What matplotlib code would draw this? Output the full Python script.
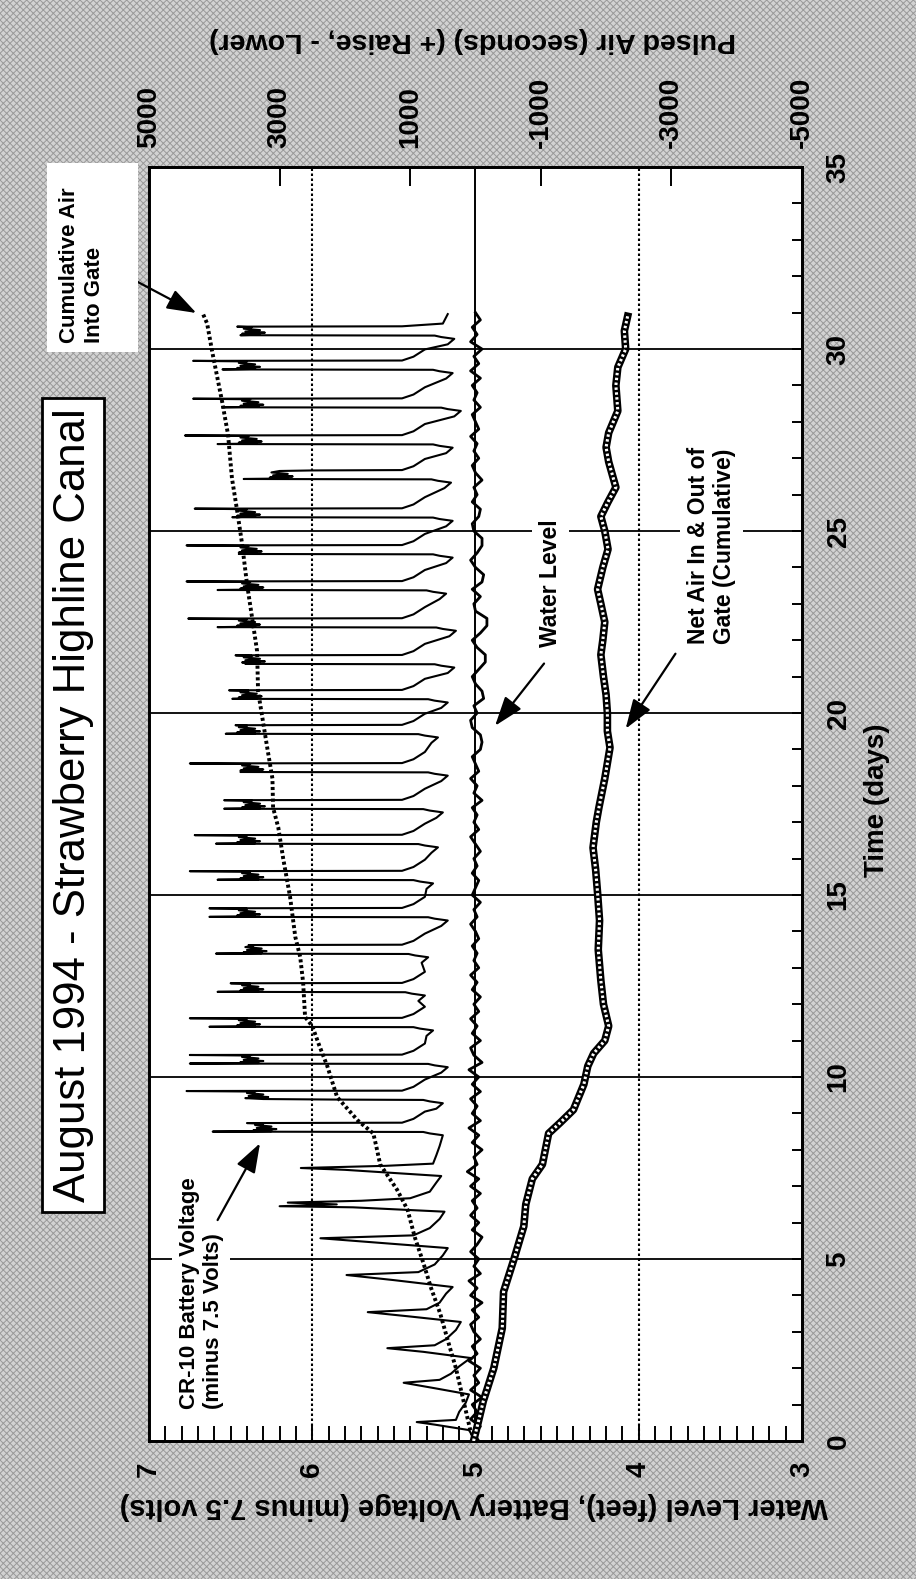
import matplotlib
matplotlib.use("Agg")
import matplotlib.pyplot as plt
from matplotlib.patches import Rectangle
from matplotlib.ticker import MultipleLocator
import numpy as np

plt.rcParams['font.family'] = ['Liberation Sans', 'DejaVu Sans']
plt.rcParams['axes.unicode_minus'] = False
plt.rcParams['hatch.linewidth'] = 0.7

# ---- values ----
time_ticks = [0, 5, 10, 15, 20, 25, 30, 35]
level_ticks = [3, 4, 5, 6, 7]
air_ticks = [5000, 3000, 1000, -1000, -3000, -5000]
air_labels = ["5000", "3000", "1000", "-1000", "-3000", "-5000"]

# water level (feet), one reading every 0.2 day
water_t = np.round(np.arange(0, 31.01, 0.2), 2)
water_lvl = [4.98, 5.01, 4.97, 5.03, 4.99, 5.02, 4.96, 5.03, 4.98, 5.01, 4.97, 5.04, 4.99, 5.02, 4.97, 5.01,
             5.03, 4.98, 5.02, 4.96, 5.03, 4.99, 5.04, 4.97, 5.01, 4.98, 5.03, 4.99, 4.96, 5.02, 4.98, 5.03,
             4.99, 5.02, 4.97, 5.03, 4.98, 5.05, 4.99, 5.01, 4.96, 5.02, 4.98, 5.04, 4.97, 5.02, 4.99, 5.03,
             4.97, 5.02, 4.98, 5.04, 4.96, 5.01, 5.03, 4.97, 5.02, 4.99, 5.03, 4.98, 5.01, 4.97, 5.02, 4.99,
             5.03, 4.98, 5.01, 4.99, 5.02, 4.98, 5.00, 5.03, 4.99, 5.01, 4.97, 5.02, 5.00, 4.98, 5.02, 4.99,
             5.01, 4.97, 5.00, 5.03, 4.98, 5.01, 4.99, 5.02, 4.96, 5.01, 4.99, 5.03, 4.98, 5.00, 5.02, 4.97,
             4.96, 4.97, 5.02, 5.03, 4.99, 5.01, 4.95, 4.96, 5.00, 5.02, 4.98, 4.94, 4.94, 4.99, 5.02, 4.97,
             4.93, 4.93, 5.00, 5.01, 4.97, 5.02, 4.96, 4.95, 5.00, 5.03, 4.99, 4.96, 4.96, 5.01, 5.02, 4.98,
             4.97, 5.02, 4.99, 5.01, 4.96, 5.00, 5.02, 4.98, 5.01, 4.99, 5.03, 4.98, 5.00, 5.02, 4.97, 5.01,
             4.99, 5.02, 4.97, 5.03, 4.98, 5.01, 4.96, 5.03, 4.99, 5.02, 4.97, 5.00]

# cumulative air into gate (seconds)
cum_t = [0.0, 0.3, 1.0, 2.0, 2.8, 3.5, 4.2, 4.9, 5.6, 6.35, 6.9, 7.6, 8.1, 8.45, 8.8, 9.45, 10.3, 10.9,
         11.4, 11.65, 12.6, 13.3, 13.85, 14.95, 16.0, 16.85, 17.4, 18.2, 19.05, 20.6, 21.7, 22.6, 23.55,
         24.65, 25.55, 26.45, 27.65, 28.55, 29.95, 30.7, 30.95]
cum_air = [0, 80, 170, 300, 430, 540, 680, 800, 930, 1040, 1200, 1460, 1520, 1565, 1800, 2120, 2270, 2400,
           2500, 2610, 2640, 2685, 2760, 2840, 2945, 3020, 3100, 3110, 3190, 3330, 3345, 3420, 3500,
           3575, 3650, 3730, 3790, 3880, 4035, 4110, 4170]

# net air in & out of gate (seconds, cumulative)
net_t = [0.0, 0.5, 1.1, 2.0, 3.1, 4.1, 5.0, 5.9, 6.5, 7.2, 7.6, 8.45, 8.75, 9.1, 9.8, 10.3, 10.65, 11.0,
         11.4, 12.0, 12.65, 13.5, 14.3, 15.05, 15.7, 16.3, 17.0, 17.4, 18.2, 19.05, 19.5, 20.0, 20.5, 21.0,
         21.6, 22.0, 22.5, 23.0, 23.4, 24.0, 24.5, 25.0, 25.4, 25.8, 26.2, 26.9, 27.3, 27.7, 28.3, 29.0,
         29.5, 30.0, 30.5, 30.9]
net_air = [30, -40, -120, -280, -410, -430, -590, -740, -770, -870, -1025, -1120, -1300, -1500, -1660,
           -1720, -1810, -1980, -2040, -1960, -1920, -1880, -1900, -1870, -1840, -1800, -1850, -1890,
           -1980, -2060, -2020, -2020, -2000, -1960, -1920, -1950, -1980, -1920, -1870, -1950, -2030,
           -1980, -1920, -2030, -2150, -2040, -2000, -2040, -2180, -2150, -2180, -2300, -2280, -2330]

# battery voltage (minus 7.5 V), first eight days point by point
batt_early_t = [0.00, 0.15, 0.30, 0.45, 0.52, 0.58, 0.80, 1.05, 1.28,
                1.45, 1.60, 1.68, 1.85, 2.05, 2.28,
                2.45, 2.55, 2.63, 2.80, 3.05, 3.27,
                3.42, 3.54, 3.62, 3.80, 4.05, 4.23,
                4.42, 4.56, 4.64, 4.85, 5.10, 5.30,
                5.45, 5.57, 5.65, 5.85, 6.10, 6.30,
                6.42, 6.45, 6.50, 6.55, 6.60, 6.67, 6.85, 7.10, 7.28,
                7.45, 7.50, 7.56, 7.62, 7.85, 8.10]
batt_early_v = [5.00, 5.02, 5.04, 5.25, 5.36, 5.12, 5.10, 5.06, 5.04,
                5.25, 5.44, 5.22, 5.15, 5.10, 5.03,
                5.32, 5.54, 5.25, 5.18, 5.12, 5.09,
                5.40, 5.66, 5.30, 5.22, 5.18, 5.14,
                5.50, 5.79, 5.35, 5.25, 5.20, 5.17,
                5.60, 5.95, 5.38, 5.28, 5.22, 5.19,
                5.75, 6.20, 5.85, 6.15, 5.70, 5.40, 5.28, 5.24, 5.21,
                5.80, 6.07, 5.55, 5.26, 5.24, 5.22]

# from day 8 on: time and level of each overnight low, morning spike, daytime level, evening spike
low_t = [8.40, 9.28, 10.27, 11.28, 12.24, 13.29, 14.30, 15.32, 16.31, 17.27, 18.28, 19.33, 20.29,
         21.25, 22.26, 23.28, 24.27, 25.28, 26.33, 27.29, 28.30, 29.34, 30.28]
low_v = [5.20, 5.20, 5.17, 5.26, 5.31, 5.29, 5.17, 5.26, 5.23, 5.20, 5.17, 5.23, 5.17,
         5.13, 5.12, 5.18, 5.14, 5.14, 5.15, 5.14, 5.09, 5.14, 5.13]
am_v = [6.61, 5.85, 6.75, 6.63, 6.58, 6.59, 6.63, 6.58, 6.59, 6.54, 6.44, 6.53, 6.49,
        6.41, 6.58, 6.58, 6.45, 6.49, 6.42, 6.58, 6.55, 6.55, 6.44]
day_v = [6.30, 6.35, 6.38, 6.40, 6.38, 6.36, 6.40, 6.38, 6.40, 6.37, 6.38, 6.40, 6.39,
         6.37, 6.40, 6.38, 6.39, 6.40, 6.20, 6.39, 6.38, 6.40, 6.37]
pm_v = [6.40, 6.77, 6.75, 6.75, 6.50, 6.39, 6.63, 6.75, 6.72, 6.54, 6.75, 6.47, 6.51,
        6.47, 6.76, 6.77, 6.77, 6.72, 6.00, 6.78, 6.73, 6.73, 6.46]
# typical jitter of the daytime level (days after the low, volts)
jit_dt = [0.115, 0.14, 0.17, 0.20, 0.24, 0.28, 0.32]
jit_dv = [-0.05, 0.06, -0.08, 0.04, -0.05, 0.05, 0.0]

batt_t = list(batt_early_t)
batt_v = list(batt_early_v)
for i, T in enumerate(low_t):
    batt_t += [T, T + 0.05, T + 0.09, T + 0.10]
    batt_v += [low_v[i], low_v[i] + 0.08, low_v[i] + 0.12, am_v[i]]
    batt_t += [T + d for d in jit_dt]
    batt_v += [day_v[i] + d for d in jit_dv]
    batt_t += [T + 0.335, T + 0.345]
    batt_v += [pm_v[i], 5.45]
    if i + 1 < len(low_t):
        batt_t += [T + 0.45, T + 0.65, low_t[i + 1] - 0.15]
        batt_v += [5.38, 5.31, low_v[i + 1] + 0.04]
    else:
        batt_t += [T + 0.42, 30.96]
        batt_v += [5.20, 5.17]

# ---- figure ----
fig = plt.figure(figsize=(9.16, 15.79), dpi=100)
fig.patch.set_facecolor('#c8c8c8')
fig.add_artist(Rectangle((0, 0), 1, 1, transform=fig.transFigure, facecolor='#d2d2d2',
                         edgecolor='#999999', hatch='xxxxx', lw=0, zorder=-10))

ax = fig.add_axes([0.1627, 0.0874, 0.7128, 0.8068])
ax2 = ax.twiny()
ax.set_facecolor('white')

ax.set_xlim(7, 3)
ax.set_ylim(0, 35)
ax2.set_xlim(5000, -5000)

# grid
for t in time_ticks[1:-1]:
    ax.axhline(t, color='black', lw=1.3, zorder=1)
ax.axvline(4, color='black', lw=1.5, ls=(0, (1.2, 1.2)), zorder=1)
ax.axvline(6, color='black', lw=1.5, ls=(0, (1.2, 1.2)), zorder=1)
ax.axvline(5, color='black', lw=1.4, zorder=1)

# series
ax.plot(batt_v, batt_t, color='black', lw=1.5, zorder=3)
ax.plot(water_lvl, water_t, color='black', lw=2.0, zorder=4)
ax2.plot(cum_air, cum_t, color='black', lw=2.8, ls=(0, (0.8, 0.7)), zorder=3)
ax2.plot(net_air, net_t, color='black', lw=5.5, zorder=3)
ax2.plot(net_air, net_t, color='white', lw=2.2, ls=(0, (0.8, 0.8)), zorder=3)

# axes, ticks
ax.set_xticks(level_ticks)
ax.set_xticklabels([str(v) for v in level_ticks], rotation=90, fontsize=20, fontweight='bold')
ax.xaxis.set_minor_locator(MultipleLocator(0.1))
ax.tick_params(axis='x', which='both', direction='in', length=11, width=1.4, pad=15,
               top=False, bottom=True)

ax.yaxis.tick_right()
ax.set_yticks(time_ticks)
ax.set_yticklabels([str(v) for v in time_ticks], rotation=90, va='center', fontsize=20,
                   fontweight='bold')
ax.yaxis.set_minor_locator(MultipleLocator(1))
ax.tick_params(axis='y', which='both', direction='in', length=7, width=1.4, pad=17,
               left=False, right=True)

ax2.set_xticks(air_ticks)
ax2.set_xticklabels(air_labels, rotation=90, fontsize=20, fontweight='bold')
ax2.tick_params(axis='x', direction='in', length=14, width=1.4, pad=14)

for sp in ax.spines.values():
    sp.set_linewidth(2)
for sp in ax2.spines.values():
    sp.set_linewidth(2)

# axis titles
fig.text(0.957, 0.4934, 'Time (days)', rotation=90, ha='center', va='center',
         fontsize=20, fontweight='bold')
fig.text(0.5175, 0.046, 'Water Level (feet), Battery Voltage (minus 7.5 volts)', rotation=180,
         ha='center', va='center', fontsize=21, fontweight='bold')
fig.text(0.516, 0.9747, 'Pulsed Air (seconds) (+ Raise, - Lower)', rotation=180,
         ha='center', va='center', fontsize=20.5, fontweight='bold')

# title box
fig.text(0.0797, 0.4902, 'August 1994 - Strawberry Highline Canal', rotation=90,
         ha='center', va='center', fontsize=31.5,
         bbox=dict(boxstyle='square,pad=0.24', fc='white', ec='black', lw=2))

# annotations
arrow = dict(arrowstyle='-|>,head_length=1.0,head_width=0.35', color='black', lw=1.6,
             mutation_scale=18, shrinkA=0, shrinkB=0)
white = dict(boxstyle='square,pad=0.3', fc='white', ec='none')

ax.text(6.681, 4.06, 'CR-10 Battery Voltage\n(minus 7.5 Volts)', rotation=90, ha='center',
        va='center', multialignment='left', fontsize=16, fontweight='bold', bbox=white, zorder=5)
ax.annotate('', xy=(6.32, 8.18), xytext=(6.58, 6.07), arrowprops=arrow, zorder=6)

ax.text(4.541, 23.58, 'Water Level', rotation=90, ha='center', va='center',
        fontsize=16.5, fontweight='bold', bbox=white, zorder=5)
ax.annotate('', xy=(4.88, 19.65), xytext=(4.58, 21.36), arrowprops=arrow, zorder=6)

ax.text(3.554, 24.6, 'Net Air In & Out of\nGate (Cumulative)', rotation=90, ha='center',
        va='center', multialignment='left', fontsize=16.5, fontweight='bold', bbox=white, zorder=5)
ax.annotate('', xy=(4.08, 19.57), xytext=(3.775, 21.63), arrowprops=arrow, zorder=6)

fig.add_artist(Rectangle((0.0513, 0.777), 0.0993, 0.1197, transform=fig.transFigure,
                         facecolor='white', edgecolor='none', zorder=2))
fig.text(0.0895, 0.8322, 'Cumulative Air\nInto Gate', rotation=90, ha='center', va='center',
         multialignment='left', fontsize=16, fontweight='bold', zorder=3)
ax.annotate('', xy=(6.71, 30.99), xycoords='data', xytext=(0.142, 0.824),
            textcoords='figure fraction', arrowprops=arrow, annotation_clip=False, zorder=6)

fig.savefig('out.png', dpi=100, facecolor=fig.get_facecolor())
